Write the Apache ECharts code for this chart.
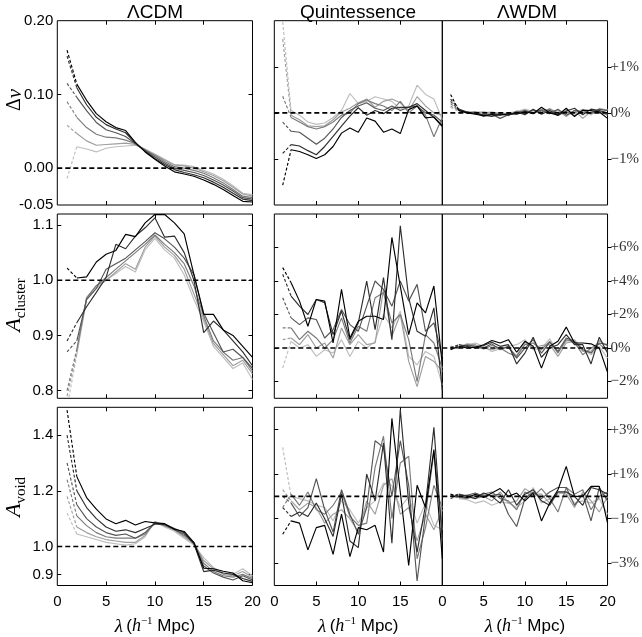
<!DOCTYPE html>
<html><head><meta charset="utf-8">
<script src="https://cdn.jsdelivr.net/npm/echarts@6.0.0/dist/echarts.min.js"></script>
<style>html,body{margin:0;padding:0;background:#fff}#c{width:642px;height:637px}</style>
</head><body><div id="c"></div>
<script>
// ---------- data ----------
const lambda = [1,2,3,4,5,6,7,8,9,10,11,12,13,14,15,16,17,18,19,20];
const columnTitles = ['ΛCDM', 'Quintessence', 'ΛWDM'];
const xTickValues = [0, 5, 10, 15, 20];
const shades = ['#000000', '#2e2e2e', '#555555', '#7a7a7a', '#9e9e9e', '#bdbdbd'];

// Row 1: Δν  (ΛCDM absolute; others in %)
const dnuLCDM = [
  [0.160, 0.114, 0.092, 0.074, 0.063, 0.055, 0.051, 0.035, 0.022, 0.012, 0.003, -0.005, -0.008, -0.011, -0.016, -0.022, -0.029, -0.037, -0.045, -0.046],
  [0.152, 0.109, 0.086, 0.069, 0.059, 0.053, 0.048, 0.034, 0.023, 0.013, 0.005, -0.002, -0.006, -0.009, -0.013, -0.019, -0.026, -0.034, -0.042, -0.044],
  [0.115, 0.096, 0.078, 0.062, 0.052, 0.048, 0.043, 0.033, 0.024, 0.015, 0.007, 0.000, -0.003, -0.006, -0.010, -0.016, -0.023, -0.031, -0.040, -0.042],
  [0.090, 0.069, 0.055, 0.046, 0.042, 0.041, 0.038, 0.033, 0.025, 0.017, 0.009, 0.002, 0.000, -0.003, -0.007, -0.013, -0.020, -0.029, -0.038, -0.040],
  [0.058, 0.047, 0.037, 0.031, 0.032, 0.033, 0.034, 0.032, 0.025, 0.018, 0.011, 0.004, 0.003, 0.000, -0.005, -0.010, -0.017, -0.026, -0.035, -0.038],
  [-0.014, 0.029, 0.026, 0.022, 0.027, 0.029, 0.030, 0.031, 0.026, 0.019, 0.012, 0.005, 0.004, 0.002, -0.003, -0.008, -0.015, -0.024, -0.034, -0.036]
];
const dnuQuint = [
  [-1.57, -0.80, -0.84, -0.91, -0.99, -0.91, -0.73, -0.44, -0.33, -0.42, -0.11, -0.18, -0.42, -0.35, -0.45, 0.07, 0.15, -0.11, -0.09, -0.28],
  [-0.88, -0.69, -0.72, -0.82, -0.91, -0.73, -0.51, -0.29, -0.07, 0.11, -0.05, 0.05, -0.02, 0.10, 0.12, 0.12, 0.20, 0.05, -0.10, -0.30],
  [-0.20, -0.40, -0.42, -0.55, -0.68, -0.55, -0.35, -0.10, 0.05, 0.15, 0.22, 0.10, 0.05, 0.15, 0.05, 0.12, 0.15, 0.00, -0.05, -0.20],
  [0.36, -0.10, -0.20, -0.30, -0.35, -0.30, -0.20, -0.05, 0.00, 0.20, 0.28, 0.20, 0.15, 0.05, 0.25, 0.00, 0.15, -0.05, -0.52, -0.10],
  [1.60, -0.05, -0.15, -0.28, -0.30, -0.28, -0.15, 0.02, 0.10, 0.22, 0.30, 0.12, 0.25, 0.30, 0.22, 0.05, 0.35, 0.15, 0.00, -0.05],
  [1.97, 0.05, -0.05, -0.20, -0.25, -0.22, -0.10, 0.05, 0.42, 0.20, 0.25, 0.35, 0.30, 0.25, 0.08, 0.15, 0.60, 0.40, 0.30, -0.15]
];
const dnuWDM = [
  [0.40, 0.05, 0.00, -0.03, -0.06, -0.04, -0.05, -0.02, -0.03, 0.03, -0.02, 0.12, 0.00, -0.05, 0.10, -0.08, 0.06, 0.05, 0.02, -0.12],
  [0.30, 0.08, 0.02, -0.02, -0.05, -0.08, -0.03, -0.05, 0.02, -0.04, 0.08, -0.03, 0.05, -0.06, 0.04, 0.10, -0.04, 0.08, 0.05, 0.00],
  [0.25, 0.06, 0.01, 0.00, -0.08, -0.03, -0.12, -0.04, 0.00, 0.05, 0.00, 0.06, -0.02, 0.08, -0.05, 0.05, 0.02, 0.00, 0.08, 0.05],
  [0.20, 0.05, 0.00, 0.02, -0.04, -0.02, -0.02, -0.06, 0.04, 0.00, 0.06, 0.02, 0.08, 0.00, 0.03, -0.06, 0.06, -0.02, 0.04, -0.05],
  [0.15, 0.04, 0.02, 0.00, 0.02, -0.01, 0.00, -0.03, 0.00, 0.06, -0.02, 0.08, 0.03, 0.05, -0.08, 0.05, -0.12, 0.03, 0.00, 0.08],
  [0.12, 0.03, 0.00, 0.03, 0.00, 0.02, -0.02, 0.00, 0.03, 0.08, 0.03, 0.00, 0.10, -0.02, 0.05, 0.00, 0.08, -0.05, 0.10, 0.06]
];

// Row 2: A_cluster
const aclLCDM = [
  [1.022, 1.004, 1.006, 1.033, 1.047, 1.054, 1.083, 1.079, 1.104, 1.119, 1.119, 1.104, 1.084, 1.010, 0.938, 0.938, 0.910, 0.900, 0.880, 0.860],
  [0.890, 0.923, 0.952, 0.978, 1.005, 1.065, 1.057, 1.080, 1.095, 1.113, 1.078, 1.080, 1.050, 1.000, 0.905, 0.926, 0.910, 0.890, 0.870, 0.845],
  [0.870, 0.890, 0.965, 0.985, 1.020, 1.030, 1.040, 1.055, 1.070, 1.086, 1.075, 1.060, 1.040, 1.010, 0.940, 0.905, 0.870, 0.875, 0.860, 0.840],
  [0.800, 0.875, 0.968, 0.990, 1.005, 1.020, 1.035, 1.050, 1.065, 1.082, 1.065, 1.050, 1.030, 0.990, 0.935, 0.890, 0.870, 0.855, 0.860, 0.835],
  [0.790, 0.870, 0.968, 0.990, 1.000, 1.015, 1.030, 1.020, 1.060, 1.080, 1.060, 1.045, 1.020, 0.975, 0.930, 0.885, 0.865, 0.845, 0.855, 0.830],
  [0.770, 0.865, 0.965, 0.985, 1.000, 1.012, 1.025, 1.015, 1.055, 1.076, 1.055, 1.040, 1.010, 0.965, 0.925, 0.880, 0.860, 0.840, 0.850, 0.820]
];
const aclQuint = [
  [4.8, 3.9, 2.8, 1.3, 2.9, 2.8, 0.3, 3.5, 0.6, 1.6, 1.9, 1.9, 1.7, 6.6, 3.7, 0.8, 2.7, 2.1, 3.7, -1.0],
  [4.4, 3.1, 2.5, 2.0, 2.9, 2.7, 0.8, 2.2, 0.5, 1.5, 4.0, 1.1, 4.2, 0.5, 7.3, 3.0, 1.0, 0.7, 2.4, -2.5],
  [3.0, 1.8, 1.4, 1.8, 1.7, 0.6, 1.1, 2.3, 1.4, 1.0, 2.5, 4.0, 3.5, 2.5, 4.0, 2.8, 3.8, 1.0, 1.5, -0.5],
  [1.2, 1.2, 0.5, 1.0, 0.6, 0.0, 0.5, 1.8, 0.3, 1.3, 1.0, 3.0, 3.3, 1.5, 2.0, 0.5, -2.0, 0.8, 0.3, -1.2],
  [0.5, 0.6, 0.2, 0.8, 0.0, 0.3, -0.6, 1.2, 0.2, 0.8, 0.2, 0.3, 3.5, 0.7, 2.0, -0.8, -2.3, -0.5, -0.8, -1.4],
  [-1.2, 0.4, 0.0, 0.2, -0.5, -0.1, -0.3, 0.5, -0.5, 0.4, 0.0, 0.4, 2.0, 1.2, 2.2, -0.5, -1.0, -0.2, -0.5, -2.2]
];
const aclWDM = [
  [-0.10, 0.10, 0.00, 0.05, 0.20, 0.45, 0.30, 0.50, -0.25, 0.40, 0.10, -1.20, 0.10, 0.40, 1.25, 0.30, 0.30, 0.25, 0.00, -1.45],
  [0.00, 0.20, 0.10, 0.00, 0.15, 0.35, 0.10, 0.20, -0.95, -0.30, 0.65, -0.55, 0.00, 0.20, 0.80, 0.20, 0.20, -0.95, 0.65, -0.30],
  [0.05, 0.05, 0.15, 0.10, 0.00, 0.25, -0.10, 0.10, -0.60, 0.00, 0.50, -0.30, 0.35, -0.20, 0.60, 0.40, -0.10, -0.30, 0.30, 0.20],
  [-0.05, 0.00, 0.20, 0.10, -0.05, 0.15, 0.00, -0.30, -0.50, 0.20, 0.30, -0.10, 0.40, -0.30, 0.50, 0.35, -0.40, 0.00, 0.25, -0.20],
  [0.10, 0.05, 0.25, 0.20, 0.00, -0.10, 0.05, 0.00, -0.45, 0.35, 0.00, 0.15, 0.20, -0.50, 0.30, 0.40, -0.20, -0.20, 0.45, 0.10],
  [0.05, 0.10, 0.15, 0.30, 0.10, -0.20, -0.05, 0.10, 0.20, 0.50, -0.10, 0.00, 0.55, -0.25, 0.40, 0.50, -0.05, -0.40, 0.10, -0.60]
];

// Row 3: A_void
const avdLCDM = [
  [1.490, 1.251, 1.176, 1.134, 1.099, 1.082, 1.094, 1.077, 1.090, 1.085, 1.082, 1.062, 1.054, 1.014, 0.922, 0.920, 0.911, 0.905, 0.877, 0.870],
  [1.400, 1.200, 1.140, 1.100, 1.070, 1.055, 1.060, 1.050, 1.065, 1.080, 1.080, 1.065, 1.050, 1.010, 0.910, 0.915, 0.905, 0.900, 0.885, 0.875],
  [1.300, 1.150, 1.100, 1.070, 1.050, 1.040, 1.045, 1.030, 1.050, 1.085, 1.078, 1.060, 1.045, 1.010, 0.930, 0.905, 0.890, 0.880, 0.895, 0.880],
  [1.240, 1.110, 1.075, 1.050, 1.035, 1.030, 1.030, 1.030, 1.045, 1.085, 1.075, 1.060, 1.040, 1.015, 0.940, 0.910, 0.895, 0.890, 0.900, 0.885],
  [1.180, 1.070, 1.050, 1.035, 1.025, 1.020, 1.015, 1.015, 1.040, 1.090, 1.075, 1.060, 1.035, 1.010, 0.950, 0.920, 0.900, 0.895, 0.910, 0.890],
  [1.120, 1.045, 1.035, 1.025, 1.015, 1.010, 1.005, 1.010, 1.035, 1.090, 1.070, 1.055, 1.030, 1.005, 0.960, 0.925, 0.905, 0.900, 0.920, 0.895]
];
const avdQuint = [
  [-1.7, -1.1, -1.2, -2.4, -1.4, -1.3, -2.6, -0.8, -2.7, -1.4, -1.5, -1.3, -2.5, 3.5, 0.2, -3.1, 0.5, -0.5, 2.1, -2.8],
  [-0.5, -0.9, -0.7, -0.9, -0.3, -1.0, -1.8, 0.1, -2.0, -2.3, 1.0, -0.2, 2.4, -2.1, 3.9, -0.3, -2.5, -0.4, 3.1, -2.0],
  [0.0, -0.3, -0.9, -0.5, 0.8, -0.6, -1.6, 0.3, -0.8, -1.7, -0.5, 2.5, 2.2, 0.0, 2.5, 0.5, -3.8, -0.8, 2.0, -1.5],
  [-0.5, 0.1, -0.4, 0.2, -0.6, -0.8, -0.4, 0.2, -0.9, -1.3, -1.2, 1.3, 2.7, -1.0, 1.5, 1.8, -2.8, -1.4, 0.5, -0.5],
  [0.3, -0.2, -0.6, -0.3, -0.5, -1.2, -0.8, -0.6, -1.0, -1.6, -0.2, -0.8, 0.5, 0.8, -0.8, -0.5, -2.0, -0.8, -1.5, -0.6],
  [2.2, 0.0, -0.1, -0.2, -0.4, -0.5, -1.1, -0.2, -0.6, -1.2, -0.5, -0.2, 0.6, 0.5, -0.5, 0.0, -1.2, -0.3, -1.3, -1.5]
];
const avdWDM = [
  [0.10, 0.00, -0.05, 0.10, -0.05, 0.15, 0.35, 0.00, 0.15, -0.20, 0.15, -1.10, -0.30, 0.30, 1.35, 0.00, 0.00, 0.45, 0.45, -1.20],
  [0.00, 0.10, 0.00, -0.10, 0.15, 0.00, -0.30, 0.30, -0.40, 0.10, 0.30, -0.20, -0.40, 0.20, 0.20, 0.00, -0.40, 0.40, 0.30, 0.10],
  [-0.10, 0.05, 0.05, 0.15, 0.00, 0.05, 0.10, -0.80, -1.35, -0.10, 0.20, -0.10, 0.20, 0.40, 0.40, -0.40, 0.10, -1.10, 0.40, -0.20],
  [0.00, -0.05, -0.10, 0.05, 0.10, 0.20, -0.10, -0.20, -0.60, 0.20, 0.00, 0.35, -0.10, -0.70, 0.40, 0.10, 0.30, -0.60, 0.00, 0.20],
  [0.05, 0.00, 0.05, -0.10, 0.00, -0.20, 0.20, -0.30, -0.20, 0.35, 0.10, 0.10, -0.30, 0.20, 0.10, -0.50, 0.20, -0.20, -0.70, 0.00],
  [0.10, -0.10, -0.15, -0.30, -0.20, -0.40, -0.25, -0.30, -0.50, -0.20, 0.40, -0.30, -0.10, 0.10, 0.20, -0.30, -0.20, -0.30, -0.10, -0.80]
];

// axis ranges / ticks
const leftAxes = [
  { min: -0.05, max: 0.2, labels: [-0.05, 0, 0.1, 0.2], ticks: [0, 0.1], dec: 2, ref: 0 },
  { min: 0.786, max: 1.12, labels: [0.8, 0.9, 1.0, 1.1], ticks: [0.8, 0.9, 1.0, 1.1], dec: 1, ref: 1 },
  { min: 0.86, max: 1.5, labels: [0.9, 1.0, 1.2, 1.4], ticks: [0.9, 1.0, 1.2, 1.4], dec: 1, ref: 1 }
];
const pctAxes = [
  { min: -2, max: 2, labels: [-1, 0, 1] },
  { min: -3, max: 8, labels: [-2, 0, 2, 4, 6] },
  { min: -4, max: 4, labels: [-3, -1, 1, 3] }
];
const panelData = [
  [dnuLCDM, dnuQuint, dnuWDM],
  [aclLCDM, aclQuint, aclWDM],
  [avdLCDM, avdQuint, avdWDM]
];

// ---------- layout ----------
const colLeft = [57.3, 274.3, 442.3];
const colW = [195.2, 168, 168];
const rowTop = [20.7, 214, 407.3];
const rowH = [184.3, 184.3, 183.7];

const SANS = 'Liberation Sans, Arial, sans-serif';
const SERIF = 'Liberation Serif, Times New Roman, serif';

const grids = [], xAxes = [], yAxes = [], series = [];
const pctFmt = v => v === 0 ? '0%' : (v > 0 ? '+' : '\u2212') + Math.abs(v) + '%';
const tickStyle = { color: '#000', width: 1 };

for (let r = 0; r < 3; r++) {
  for (let c = 0; c < 3; c++) {
    const gi = r * 3 + c;
    grids.push({ left: colLeft[c], top: rowTop[r], width: colW[c], height: rowH[r],
      show: true, borderColor: '#000', borderWidth: 1, backgroundColor: 'transparent' });
    const isBottom = r === 2;
    const xl = c === 1 ? [0, 5, 10, 15] : xTickValues;
    xAxes.push({
      type: 'value', gridIndex: gi, min: 0, max: 20, position: 'bottom',
      axisLine: { show: false, onZero: false }, splitLine: { show: false },
      axisTick: { show: true, inside: true, length: 4, lineStyle: tickStyle, customValues: [5, 10, 15] },
      axisLabel: { show: isBottom, customValues: xl, color: '#000', fontFamily: SANS, fontSize: 15, margin: 9 },
      name: isBottom ? '{l|λ} {n|(}{h|h}{s|\u22121}{n| Mpc)}' : '',
      nameLocation: 'middle', nameGap: 30,
      nameTextStyle: { rich: {
        l: { fontFamily: SERIF, fontStyle: 'italic', fontSize: 19, lineHeight: 22, color: '#000' },
        n: { fontFamily: SANS, fontSize: 17, lineHeight: 22, color: '#000' },
        h: { fontFamily: SERIF, fontStyle: 'italic', fontSize: 18, lineHeight: 22, color: '#000' },
        s: { fontFamily: SERIF, fontSize: 11, lineHeight: 12, verticalAlign: 'top', color: '#000' }
      } }
    });
    xAxes.push({
      type: 'value', gridIndex: gi, min: 0, max: 20, position: 'top',
      axisLine: { show: false, onZero: false }, splitLine: { show: false }, axisLabel: { show: false },
      axisTick: { show: true, inside: true, length: 4, lineStyle: tickStyle, customValues: [5, 10, 15] }
    });
    if (c === 0) {
      const a = leftAxes[r];
      yAxes.push({
        type: 'value', gridIndex: gi, min: a.min, max: a.max, position: 'left',
        axisLine: { show: false, onZero: false }, splitLine: { show: false },
        axisTick: { show: true, inside: true, length: 4, lineStyle: tickStyle, customValues: a.ticks },
        axisLabel: { show: true, customValues: a.labels, formatter: v => Number(v).toFixed(a.dec),
          color: '#000', fontFamily: SANS, fontSize: 15, margin: 4 }
      });
      yAxes.push({
        type: 'value', gridIndex: gi, min: a.min, max: a.max, position: 'right',
        axisLine: { show: false, onZero: false }, splitLine: { show: false }, axisLabel: { show: false },
        axisTick: { show: true, inside: true, length: 4, lineStyle: tickStyle, customValues: a.ticks }
      });
    } else {
      const a = pctAxes[r];
      yAxes.push({
        type: 'value', gridIndex: gi, min: a.min, max: a.max, position: 'left',
        axisLine: { show: false, onZero: false }, splitLine: { show: false }, axisLabel: { show: false },
        axisTick: { show: c === 1, inside: true, length: 4, lineStyle: tickStyle, customValues: a.labels }
      });
      yAxes.push({
        type: 'value', gridIndex: gi, min: a.min, max: a.max, position: 'right',
        axisLine: { show: false, onZero: false }, splitLine: { show: false },
        axisTick: { show: c === 2, inside: false, length: 4, lineStyle: tickStyle, customValues: a.labels },
        axisLabel: { show: c === 2, customValues: a.labels, formatter: v => pctFmt(Number(v)),
          color: '#333', fontFamily: SERIF, fontSize: 15, margin: 3 }
      });
    }
    const rows = panelData[r][c];
    for (let k = rows.length - 1; k >= 0; k--) {
      const vals = rows[k];
      const common = { type: 'line', xAxisIndex: 2 * gi, yAxisIndex: 2 * gi, showSymbol: false, symbol: 'none',
        silent: true, clip: true, z: 3 };
      series.push(Object.assign({}, common, {
        data: lambda.slice(0, 2).map((x, i) => [x, vals[i]]),
        lineStyle: { color: shades[k], width: 1.15, type: [3, 2] }
      }));
      series.push(Object.assign({}, common, {
        data: lambda.slice(1).map((x, i) => [x, vals[i + 1]]),
        lineStyle: { color: shades[k], width: 1.15 }
      }));
    }
    const ref = c === 0 ? leftAxes[r].ref : 0;
    series.push({ type: 'line', xAxisIndex: 2 * gi, yAxisIndex: 2 * gi, symbol: 'none', silent: true, z: 5,
      data: [[0, ref], [20, ref]], lineStyle: { color: '#000', width: 1.6, type: [5, 3] } });
  }
}

const graphics = [];
const titleX = [155, 358, 527];
columnTitles.forEach((t, i) => graphics.push({ type: 'text', x: titleX[i], y: 13,
  style: { text: t, fill: '#000', font: '19px ' + SANS, textAlign: 'center', textVerticalAlign: 'middle' } }));

const yNames = [
  { x: 18, y: 100, text: '{d|Δ}{v|ν}' },
  { x: 16, y: 305, text: '{a|A}{s|cluster}' },
  { x: 16, y: 497, text: '{a|A}{s|void}' }
];
yNames.forEach(n => graphics.push({ type: 'text', x: n.x, y: n.y, rotation: Math.PI / 2,
  style: { text: n.text, textAlign: 'center', textVerticalAlign: 'middle', fill: '#000',
    rich: {
      d: { fontFamily: SERIF, fontSize: 20, lineHeight: 26, verticalAlign: 'top', fill: '#000' },
      v: { fontFamily: SERIF, fontStyle: 'italic', fontSize: 21, lineHeight: 26, verticalAlign: 'top', fill: '#000' },
      a: { fontFamily: SERIF, fontStyle: 'italic', fontSize: 22, lineHeight: 26, verticalAlign: 'top', fill: '#000' },
      s: { fontFamily: SERIF, fontSize: 15, lineHeight: 15, verticalAlign: 'bottom', fill: '#000' }
    } } }));

const chart = echarts.init(document.getElementById('c'), null, { renderer: 'canvas' });
chart.setOption({
  animation: false,
  backgroundColor: '#fff',
  grid: grids, xAxis: xAxes, yAxis: yAxes, series: series, graphic: graphics
});
</script></body></html>
